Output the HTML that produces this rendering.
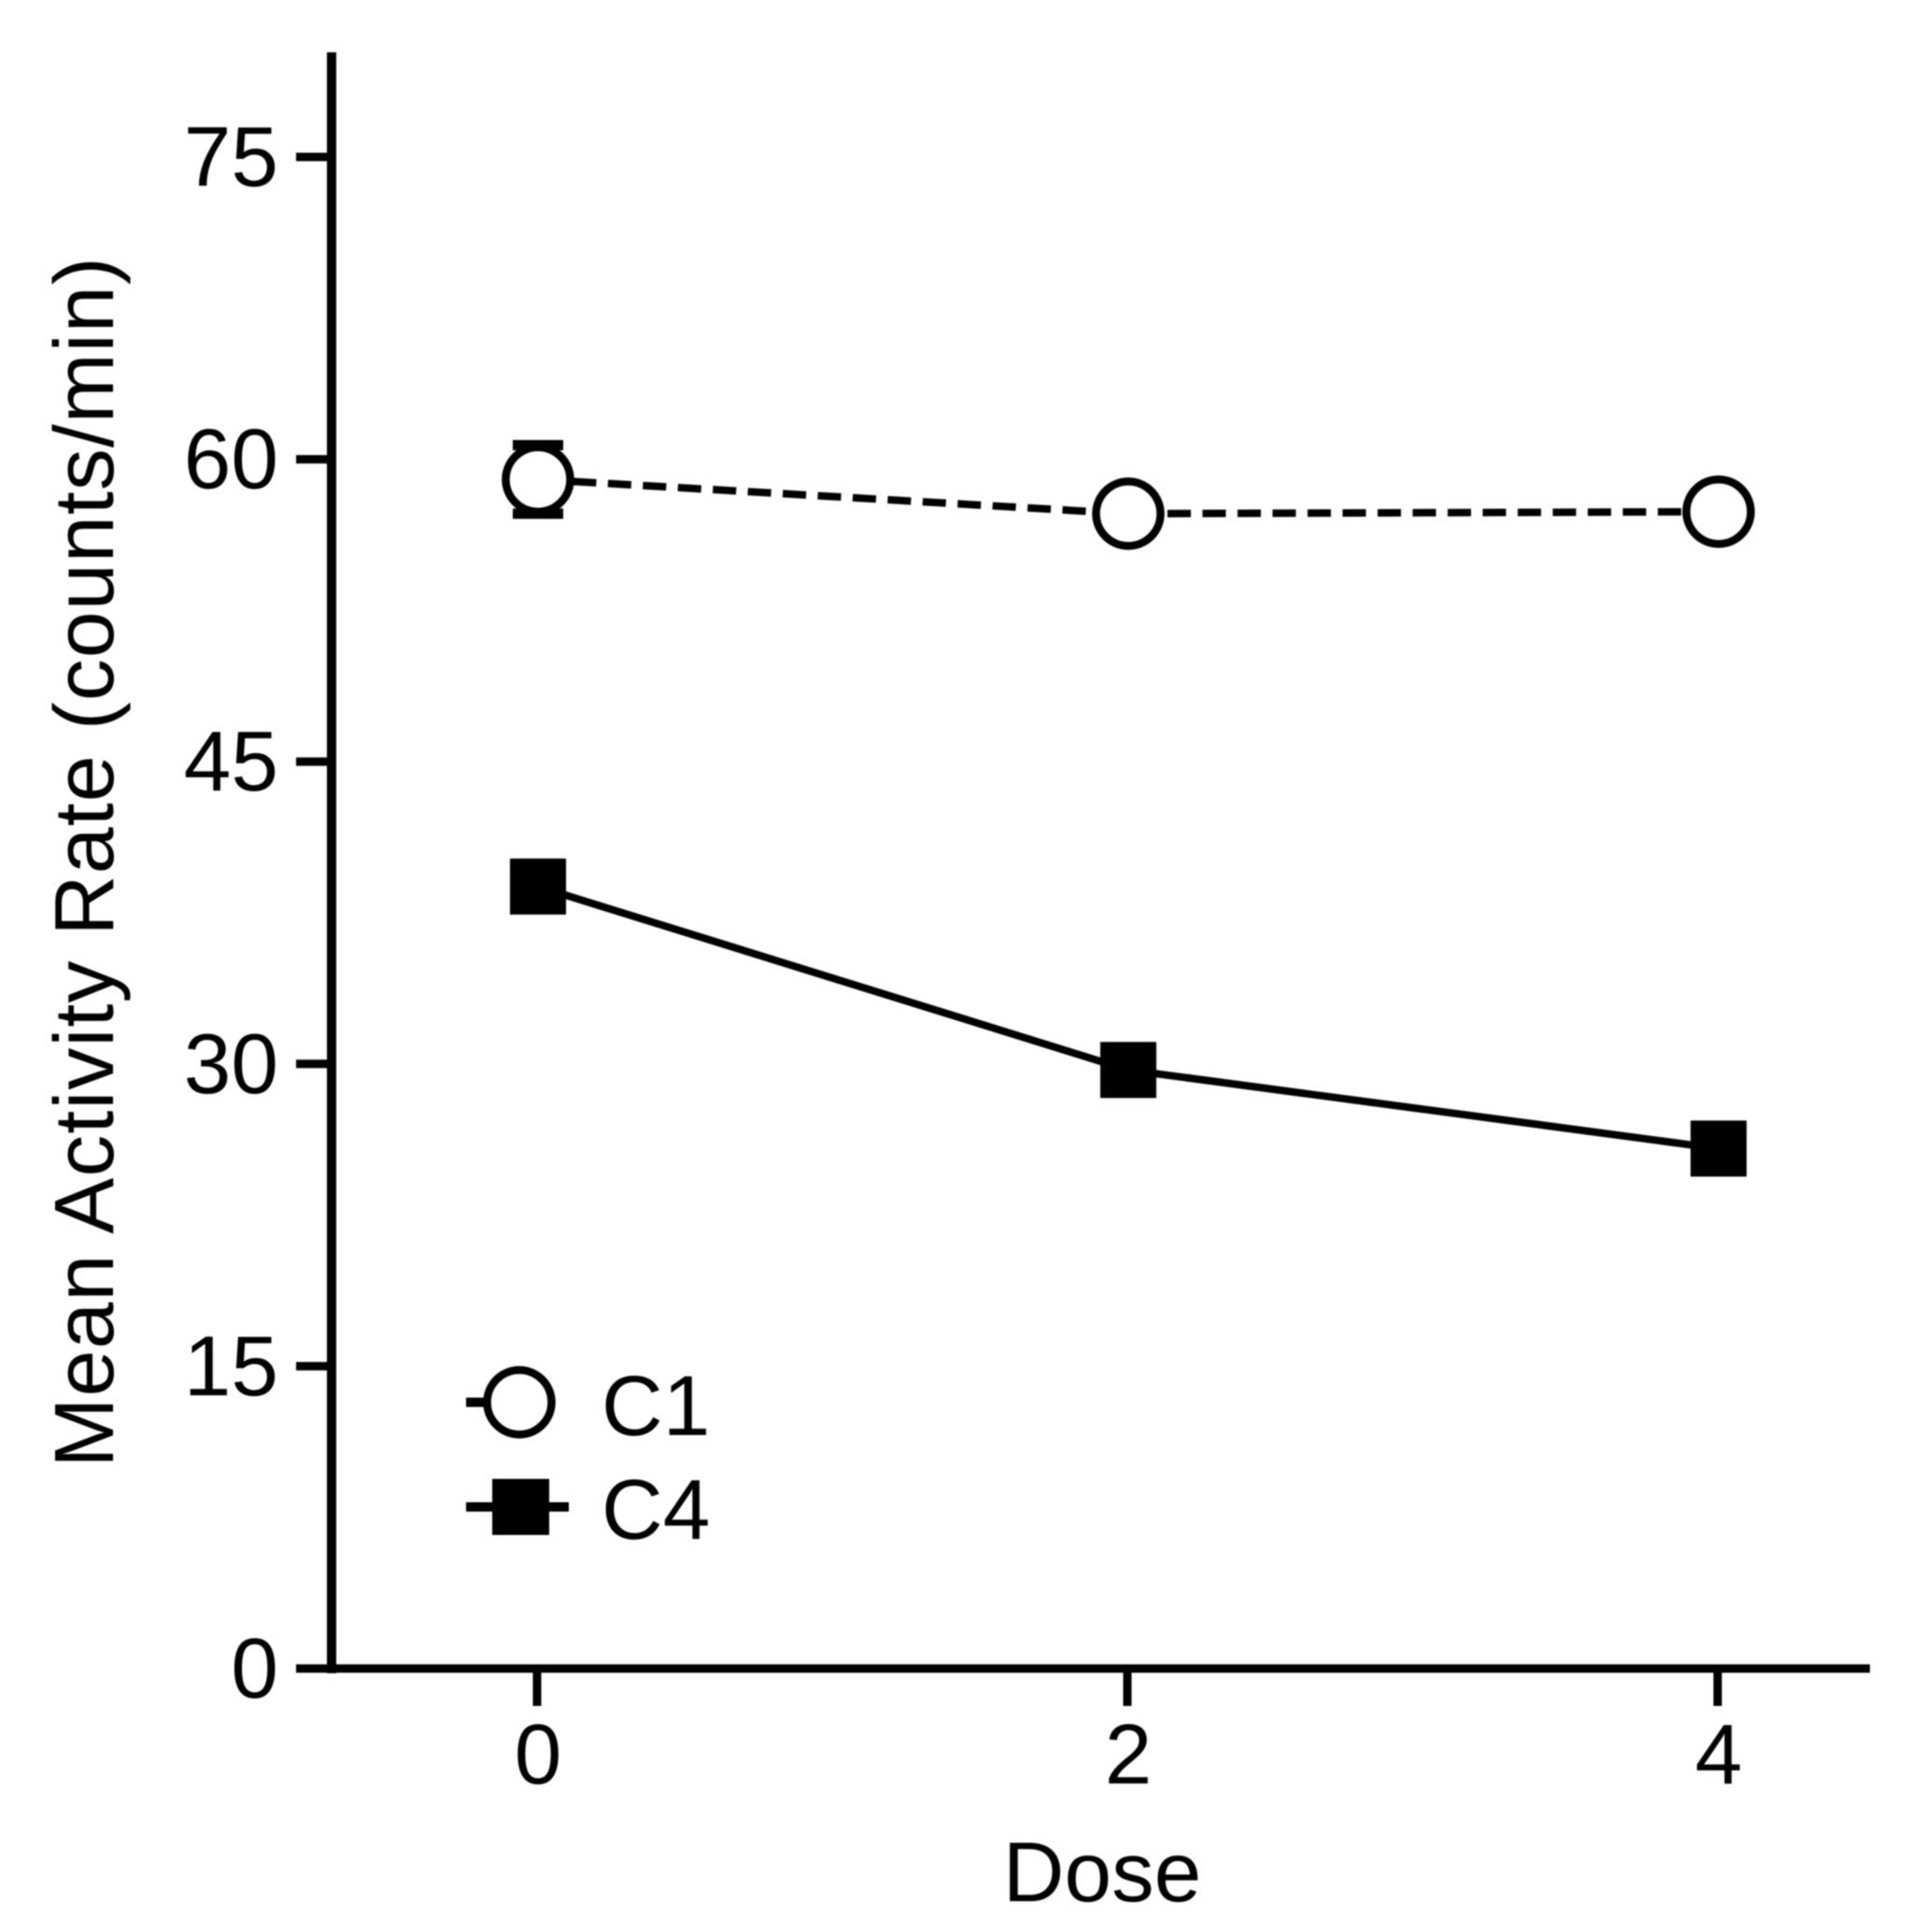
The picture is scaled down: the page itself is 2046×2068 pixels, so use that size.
<!DOCTYPE html>
<html lang="en">
<head>
<meta charset="utf-8">
<title>Mean Activity Rate by Dose</title>
<style>
  html, body { margin: 0; padding: 0; background: #fff; }
  body { width: 2046px; height: 2068px; overflow: hidden; }
  svg { display: block; filter: blur(0.7px); }
  text { font-family: "Liberation Sans", sans-serif; fill: #000; }
</style>
</head>
<body>
<svg id="chart" xmlns="http://www.w3.org/2000/svg" width="2046" height="2068" viewBox="0 0 2046 2068">
  <rect x="0" y="0" width="2046" height="2068" fill="#fff"/>
  <g id="axes"></g>
  <text transform="translate(121,1571) rotate(-90)" font-size="90" textLength="1296" lengthAdjust="spacing">Mean Activity Rate (counts/min)</text>
  <text x="1180" y="2035" font-size="91" text-anchor="middle">Dose</text>
  <g id="series"></g>
  <g id="legend">
    <g>
      <line x1="499" y1="1501" x2="530" y2="1501" stroke="#000" stroke-width="10"/>
      <circle cx="556" cy="1501" r="34.5" fill="#fff" stroke="#000" stroke-width="8.5"/>
      <text x="644" y="1536" font-size="91">C1</text>
    </g>
    <g>
      <line x1="499" y1="1613" x2="609" y2="1613" stroke="#000" stroke-width="10"/>
      <rect x="527" y="1583" width="61" height="60" fill="#000"/>
      <text x="644" y="1647" font-size="91">C4</text>
    </g>
  </g>
</svg>
<script>
const doseCategories = [0, 2, 4];
const yTickValues = [0, 15, 30, 45, 60, 75];
const c1Values = [59.0, 57.3, 57.4];
const c4Values = [38.8, 29.7, 25.8];
const c1ErrorValues = [1.7, 0, 0];

const SVG_NS = 'http://www.w3.org/2000/svg';

function xScale(dose) {
  return 576 + (dose - 0) * 316;
}
function yScale(value) {
  return 1786 - value * 21.573;
}
function make(parent, tag, attrs) {
  const el = document.createElementNS(SVG_NS, tag);
  for (const key in attrs) {
    el.setAttribute(key, attrs[key]);
  }
  parent.appendChild(el);
  return el;
}

const axesLayer = document.getElementById('axes');
const seriesLayer = document.getElementById('series');

const yAxisLine = make(axesLayer, 'line', { x1: 355, y1: 56, x2: 355, y2: 1791, stroke: '#000', 'stroke-width': 10 });



const xAxisLine = make(axesLayer, 'line', { x1: 317, y1: 1786, x2: 2002, y2: 1786, stroke: '#000', 'stroke-width': 9 });



yTickValues.forEach(function (value) {
  const py = yScale(value);
  const tick = make(axesLayer, 'line', { x1: 317, y1: py, x2: 352, y2: py, stroke: '#000', 'stroke-width': 9 });
  
  
  const label = make(axesLayer, 'text', { x: 298, y: py + 31, 'font-size': 91, 'text-anchor': 'end' });
  label.textContent = String(value);
  
  
});

doseCategories.forEach(function (dose) {
  const px = xScale(dose);
  const tick = make(axesLayer, 'line', { x1: px - 1, y1: 1786, x2: px - 1, y2: 1826, stroke: '#000', 'stroke-width': 9 });
  
  
  const label = make(axesLayer, 'text', { x: px, y: 1909, 'font-size': 91, 'text-anchor': 'middle' });
  label.textContent = String(dose);
  
  
});

function linePoints(values) {
  return values.map(function (value, i) {
    return xScale(doseCategories[i]) + ',' + yScale(value);
  }).join(' ');
}

const c1Line = make(seriesLayer, 'polyline', { points: linePoints(c1Values), fill: 'none', stroke: '#000', 'stroke-width': 8, 'stroke-dasharray': '25 12.5' });



const c4Line = make(seriesLayer, 'polyline', { points: linePoints(c4Values), fill: 'none', stroke: '#000', 'stroke-width': 8 });



c1Values.forEach(function (value, i) {
  const px = xScale(doseCategories[i]);
  const err = c1ErrorValues[i];
  if (err > 0) {
    const top = yScale(value + err);
    const bottom = yScale(value - err);
    const bar = make(seriesLayer, 'path', {
      d: 'M' + (px - 27) + ' ' + top + 'H' + (px + 27) + 'M' + px + ' ' + top + 'V' + bottom + 'M' + (px - 27) + ' ' + bottom + 'H' + (px + 27),
      fill: 'none', stroke: '#000', 'stroke-width': 11
    });
    
    
  }
  const marker = make(seriesLayer, 'circle', { cx: px, cy: yScale(value), r: 34.5, fill: '#fff', stroke: '#000', 'stroke-width': 8.5 });
  
  
});

c4Values.forEach(function (value, i) {
  const px = xScale(doseCategories[i]);
  const marker = make(seriesLayer, 'rect', { x: px - 30, y: yScale(value) - 30, width: 60, height: 60, fill: '#000' });
  
  
});
</script>
</body>
</html>
